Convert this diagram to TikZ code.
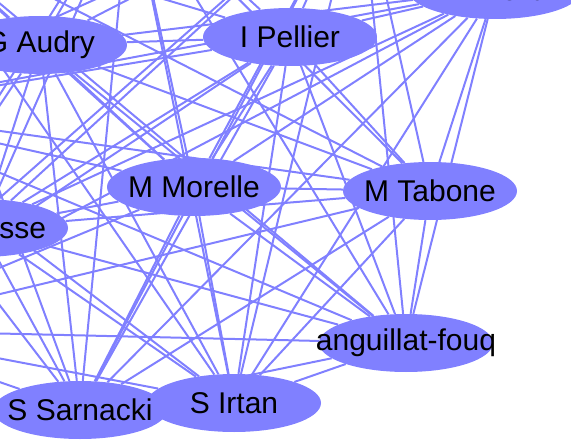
\documentclass[tikz,border=0pt]{standalone}
\usepackage{fontspec}
\setmainfont{Liberation Sans}
\usetikzlibrary{shapes.geometric,backgrounds}
\definecolor{gvblue}{RGB}{128,128,255}
\tikzset{
  person/.style={ellipse, fill=gvblue, minimum width=174pt, minimum height=58pt,
    inner sep=0pt, font=\fontsize{30}{36}\selectfont},
  tie/.style={draw=gvblue, line width=2pt}
}
\newcommand{\who}[1]{\makebox[0pt]{#1}}

\begin{document}
\begin{tikzpicture}[x=1pt, y=-1pt]
  \useasboundingbox (0,0) rectangle (571,444);
  % people in view
  \node[person] (ga) at (40,45) {\who{G Audry}};
  \node[person] (ip) at (290,37) {\who{I Pellier}};
  \node[person] (dj) at (495,-10) {\who{\raisebox{11pt}{D Jaguy}}};
  \node[person] (pr) at (-19,228) {\who{P Rousse}};
  \node[person] (mm) at (194,187) {\who{M Morelle}};
  \node[person] (mt) at (430,191) {\who{M Tabone}};
  \node[person] (af) at (406,343) {\who{anguillat-fouq}};
  \node[person] (si) at (234,403) {\who{S Irtan}};
  \node[person] (ss) at (80,410) {\who{S Sarnacki}};
  % people out of view
  \node[person] (o1) at (-100,-80) {};
  \node[person] (o2) at (130,-110) {};
  \node[person] (o3) at (360,-120) {};
  \node[person] (o4) at (-150,110) {};
  \node[person] (o5) at (-150,330) {};
  % ties
  \begin{scope}[on background layer]
    \foreach \a [count=\i] in {ga,ip,dj,pr,mm,mt,af,ss,si,o1,o2,o3,o4,o5}
      \foreach \b [count=\j] in {ga,ip,dj,pr,mm,mt,af,ss,si,o1,o2,o3,o4,o5}
        {\ifnum\i<\j \draw[tie] (\a) -- (\b); \fi}
  \end{scope}
\end{tikzpicture}
\end{document}
